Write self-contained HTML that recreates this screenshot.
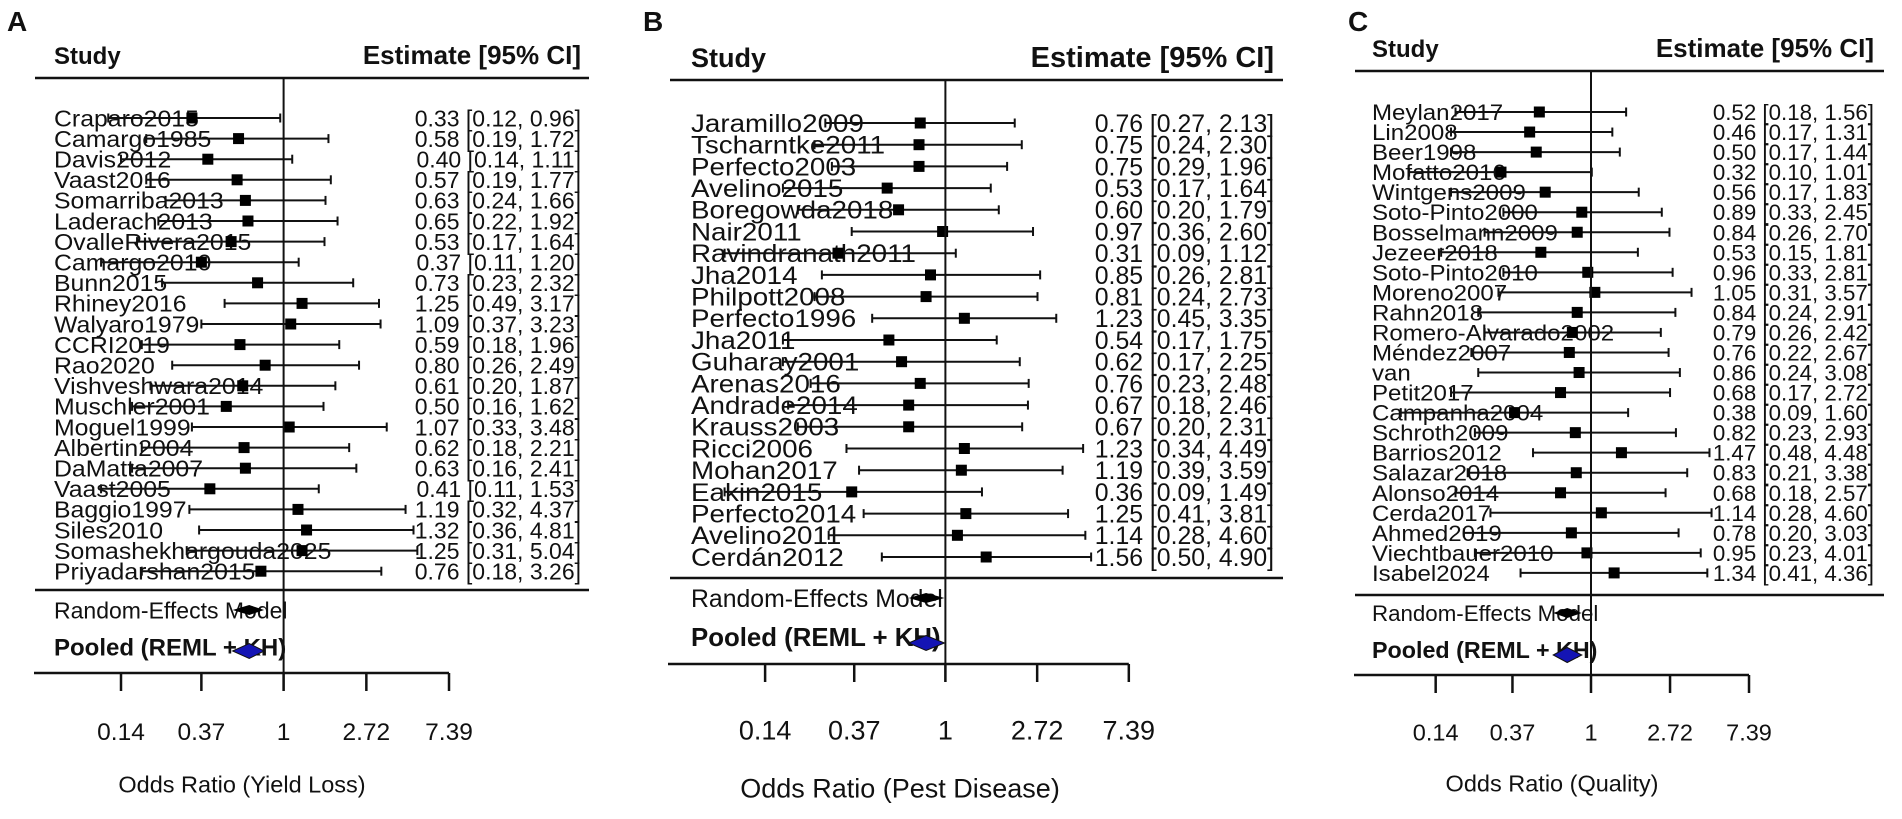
<!DOCTYPE html>
<html><head><meta charset="utf-8"><style>
html,body{margin:0;padding:0;background:#fff;}
svg{display:block;}
text{font-family:"Liberation Sans",Arial,sans-serif;fill:#111;}
</style></head><body>
<svg id="chart" width="1902" height="819" viewBox="0 0 1902 819" xmlns="http://www.w3.org/2000/svg"></svg>
<script>
// ---------- DATA ----------
const tickValues = [0.14, 0.37, 1, 2.72, 7.39];
const tickLabels = ["0.14", "0.37", "1", "2.72", "7.39"];

const studiesA = ["Craparo2015","Camargo1985","Davis2012","Vaast2016","Somarriba2013","Laderach2013","OvalleRivera2015","Camargo2010","Bunn2015","Rhiney2016","Walyaro1979","CCRI2019","Rao2020","Vishveshwara2014","Muschler2001","Moguel1999","Albertin2004","DaMatta2007","Vaast2005","Baggio1997","Siles2010","Somashekhargouda2025","Priyadarshan2015"];
const estA  = [0.33,0.58,0.40,0.57,0.63,0.65,0.53,0.37,0.73,1.25,1.09,0.59,0.80,0.61,0.50,1.07,0.62,0.63,0.41,1.19,1.32,1.25,0.76];
const lowA  = [0.12,0.19,0.14,0.19,0.24,0.22,0.17,0.11,0.23,0.49,0.37,0.18,0.26,0.20,0.16,0.33,0.18,0.16,0.11,0.32,0.36,0.31,0.18];
const highA = [0.96,1.72,1.11,1.77,1.66,1.92,1.64,1.20,2.32,3.17,3.23,1.96,2.49,1.87,1.62,3.48,2.21,2.41,1.53,4.37,4.81,5.04,3.26];
const pooledA = [0.66, 0.54, 0.79]; // estimate, lower, upper

const studiesB = ["Jaramillo2009","Tscharntke2011","Perfecto2003","Avelino2015","Boregowda2018","Nair2011","Ravindranath2011","Jha2014","Philpott2008","Perfecto1996","Jha2011","Guharay2001","Arenas2016","Andrade2014","Krauss2003","Ricci2006","Mohan2017","Eakin2015","Perfecto2014","Avelino2011","Cerdán2012"];
const estB  = [0.76,0.75,0.75,0.53,0.60,0.97,0.31,0.85,0.81,1.23,0.54,0.62,0.76,0.67,0.67,1.23,1.19,0.36,1.25,1.14,1.56];
const lowB  = [0.27,0.24,0.29,0.17,0.20,0.36,0.09,0.26,0.24,0.45,0.17,0.17,0.23,0.18,0.20,0.34,0.39,0.09,0.41,0.28,0.50];
const highB = [2.13,2.30,1.96,1.64,1.79,2.60,1.12,2.81,2.73,3.35,1.75,2.25,2.48,2.46,2.31,4.49,3.59,1.49,3.81,4.60,4.90];
const pooledB = [0.81, 0.67, 0.99];

const studiesC = ["Meylan2017","Lin2008","Beer1998","Mofatto2016","Wintgens2009","Soto-Pinto2000","Bosselmann2009","Jezeer2018","Soto-Pinto2010","Moreno2007","Rahn2018","Romero-Alvarado2002","Méndez2007","van","Petit2017","Campanha2004","Schroth2009","Barrios2012","Salazar2018","Alonso2014","Cerda2017","Ahmed2019","Viechtbauer2010","Isabel2024"];
const estC  = [0.52,0.46,0.50,0.32,0.56,0.89,0.84,0.53,0.96,1.05,0.84,0.79,0.76,0.86,0.68,0.38,0.82,1.47,0.83,0.68,1.14,0.78,0.95,1.34];
const lowC  = [0.18,0.17,0.17,0.10,0.17,0.33,0.26,0.15,0.33,0.31,0.24,0.26,0.22,0.24,0.17,0.09,0.23,0.48,0.21,0.18,0.28,0.20,0.23,0.41];
const highC = [1.56,1.31,1.44,1.01,1.83,2.45,2.70,1.81,2.81,3.57,2.91,2.42,2.67,3.08,2.72,1.60,2.93,4.48,3.38,2.57,4.60,3.03,4.01,4.36];
const pooledC = [0.74, 0.62, 0.89];

// ---------- DRAW ----------
const NS = "http://www.w3.org/2000/svg";
const svg = document.getElementById("chart");
function mk(tag, attrs, parent, txt) {
  const e = document.createElementNS(NS, tag);
  for (const k in attrs) e.setAttribute(k, attrs[k]);
  if (txt !== undefined) e.textContent = txt;
  (parent || svg).appendChild(e);
  return e;
}

const panels = [
  {id:"a", letter:"A", studies:studiesA, est:estA, low:lowA, high:highA, pooled:pooledA, title:"Odds Ratio (Yield Loss)",
   x0:283.6, ppu:82.7, axisY:673, axisL:34, headY:78, lineL:35, lineR:589, first:118, rowH:20.6, sep:590, reY:610, poolTxtY:647, poolY:651,
   labelX:54, estR:581, font:23, sx:1.08, headFont:26, letterX:7, tickFont:24.5, tickY:731, titleFont:23.5, titleY:784, titleX:242, headTextY:64},
  {id:"b", letter:"B", studies:studiesB, est:estB, low:lowB, high:highB, pooled:pooledB, title:"Odds Ratio (Pest Disease)",
   x0:945.4, ppu:91.7, axisY:664, axisL:668, headY:80, lineL:670, lineR:1283, first:123, rowH:21.7, sep:578, reY:598, poolTxtY:637, poolY:643,
   labelX:691, estR:1274, font:24.8, sx:1.12, headFont:29, letterX:643, tickFont:27, tickY:730, titleFont:27, titleY:788, titleX:900, headTextY:67},
  {id:"c", letter:"C", studies:studiesC, est:estC, low:lowC, high:highC, pooled:pooledC, title:"Odds Ratio (Quality)",
   x0:1591, ppu:79, axisY:675, axisL:1354, headY:71, lineL:1355, lineR:1884, first:112, rowH:20.04, sep:595, reY:613, poolTxtY:650, poolY:655,
   labelX:1372, estR:1874, font:22.3, sx:1.08, headFont:26, letterX:1348, tickFont:23.5, tickY:732, titleFont:23.5, titleY:783, titleX:1552, headTextY:57}
];

panels.forEach(p => {
  const X = v => p.x0 + Math.log(v) * p.ppu;
  const g = mk("g", {}, svg);
  
  

  const L = mk("text", {x:p.letterX, y:31, "font-size":28, "font-weight":"bold"}, g, p.letter);
  
  

  const hs = mk("text", {x:p.labelX, y:p.headTextY, "font-size":p.headFont-2, "font-weight":"bold"}, g, "Study");
  
  
  const he = mk("text", {x:p.estR, y:p.headTextY, "font-size":p.headFont, "font-weight":"bold", "text-anchor":"end"}, g, "Estimate [95% CI]");
  
  

  const hl = mk("line", {x1:p.lineL, x2:p.lineR, y1:p.headY, y2:p.headY, stroke:"#111", "stroke-width":2.5}, g);
  
  
  const sl = mk("line", {x1:p.lineL, x2:p.lineR, y1:p.sep, y2:p.sep, stroke:"#111", "stroke-width":2.5}, g);
  
  

  // rows
  p.studies.forEach((s, i) => {
    const y = p.first + i * p.rowH;
    const rg = mk("g", {}, g);
    
    
    const t = mk("text", {x:0, y:0, "font-size":p.font, transform:`translate(${p.labelX},${y + p.font*0.36}) scale(${p.sx},1)`}, rg, s);
    
    
    const xl = X(p.low[i]), xh = X(p.high[i]), xe = X(p.est[i]);
    const ci = mk("line", {x1:xl, x2:xh, y1:y, y2:y, stroke:"#111", "stroke-width":2}, rg);
    
    
    [xl, xh].forEach(xx => {
      const c = mk("line", {x1:xx, x2:xx, y1:y-4.5, y2:y+4.5, stroke:"#111", "stroke-width":2}, rg);
      
      
    });
    const sq = mk("rect", {x:xe-5.5, y:y-5.5, width:11, height:11, fill:"#000"}, rg);
    
    
    const et = mk("text", {x:p.estR, y:y + p.font*0.36, "font-size":p.font, "text-anchor":"end"}, rg,
      p.est[i].toFixed(2) + " [" + p.low[i].toFixed(2) + ", " + p.high[i].toFixed(2) + "]");
    
    
  });

  // vertical reference line
  const vl = mk("line", {x1:p.x0, x2:p.x0, y1:p.headY, y2:p.axisY + 18, stroke:"#111", "stroke-width":2}, g);
  
  

  // summary rows
  const rt = mk("text", {x:p.labelX, y:p.reY + p.font*0.36, "font-size":p.font}, g, "Random-Effects Model");
  
  
  const pe = X(p.pooled[0]), pl = X(p.pooled[1]), ph = X(p.pooled[2]);
  const rd = mk("polygon", {points:`${pl},${p.reY} ${pe},${p.reY-5} ${ph},${p.reY} ${pe},${p.reY+5}`, fill:"#000"}, g);
  
  
  const pt = mk("text", {x:p.labelX, y:p.poolTxtY + p.font*0.36, "font-size":p.font+1, "font-weight":"bold"}, g, "Pooled (REML + KH)");
  
  
  const pd = mk("polygon", {points:`${pl},${p.poolY} ${pe},${p.poolY-7.5} ${ph},${p.poolY} ${pe},${p.poolY+7.5}`, fill:"#1414b4", stroke:"#111", "stroke-width":1}, g);
  
  

  // axis
  const ax = mk("line", {x1:p.axisL, x2:X(tickValues[tickValues.length-1]), y1:p.axisY, y2:p.axisY, stroke:"#111", "stroke-width":2.5}, g);
  
  
  tickValues.forEach((v, k) => {
    const tx = X(v);
    const tk = mk("line", {x1:tx, x2:tx, y1:p.axisY, y2:p.axisY + 18, stroke:"#111", "stroke-width":2.5}, g);
    
    
    const tl = mk("text", {x:tx, y:p.tickY + p.tickFont*0.36, "font-size":p.tickFont, "text-anchor":"middle"}, g, tickLabels[k]);
    
    
  });
  const ti = mk("text", {x:p.titleX, y:p.titleY + p.titleFont*0.36, "font-size":p.titleFont, "text-anchor":"middle"}, g, p.title);
  
  
});
</script>
</body></html>
